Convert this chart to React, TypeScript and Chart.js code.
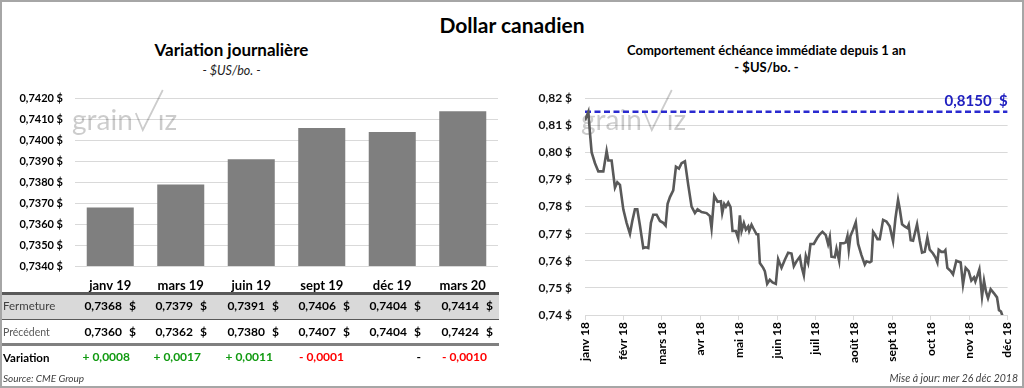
import React, { useEffect, useRef } from "react";
import { Chart, registerables } from "chart.js";

Chart.register(...registerables);

const FONT = "Lato, 'Open Sans', 'Noto Sans', sans-serif";
Chart.defaults.font.family = FONT;

// ---- Left panel data (daily variation by contract) ----
const contracts = ["janv 19", "mars 19", "juin 19", "sept 19", "déc 19", "mars 20"];
const closing = [0.7368, 0.7379, 0.7391, 0.7406, 0.7404, 0.7414];
const previous = [0.736, 0.7362, 0.738, 0.7407, 0.7404, 0.7424];
const leftMin = 0.734;
const leftMax = 0.742;
const leftStep = 0.001;

// ---- Right panel data (nearby contract, last year) ----
const monthLabels = ["janv 18", "févr 18", "mars 18", "avr 18", "mai 18", "juin 18", "juil 18", "août 18", "sept 18", "oct 18", "nov 18", "déc 18"];
// position in months since janv 18
const monthPos = [
  0.0, 0.087, 0.13, 0.173, 0.26, 0.347, 0.477, 0.563, 0.607, 0.693, 0.78, 0.841, 0.91, 0.997,
  1.083, 1.17, 1.231, 1.3, 1.361, 1.43, 1.517, 1.586, 1.647, 1.716, 1.777, 1.864, 1.951,
  2.037, 2.098, 2.15, 2.211, 2.297, 2.367, 2.445, 2.514, 2.601, 2.687, 2.774, 2.861, 2.93,
  3.034, 3.164, 3.251, 3.294, 3.364, 3.45, 3.537, 3.572, 3.624, 3.667, 3.728, 3.788, 3.84, 3.927, 3.988,
  4.031, 4.075, 4.135, 4.187, 4.248, 4.274, 4.335, 4.378, 4.465, 4.508, 4.551, 4.638, 4.681, 4.742, 4.811, 4.882, 4.967,
  5.028, 5.115, 5.202, 5.288, 5.375, 5.436, 5.505, 5.592, 5.635, 5.696, 5.748, 5.808, 5.869, 5.956,
  6.043, 6.112, 6.181, 6.268, 6.328, 6.372, 6.415, 6.502, 6.545, 6.615, 6.649, 6.736, 6.788, 6.832, 6.866, 6.91, 6.979,
  7.048, 7.109, 7.196, 7.282, 7.326, 7.412, 7.456, 7.499, 7.542, 7.612, 7.672, 7.759, 7.846, 7.932,
  8.019, 8.08, 8.149, 8.192, 8.253, 8.322, 8.392, 8.426, 8.478, 8.539, 8.643, 8.713, 8.773, 8.843, 8.912, 8.973,
  9.059, 9.12, 9.172, 9.207, 9.276, 9.345, 9.38, 9.432, 9.519, 9.579, 9.666, 9.779, 9.839, 9.909, 9.987,
  10.056, 10.126, 10.161, 10.213, 10.265, 10.334, 10.386, 10.438, 10.49, 10.559, 10.646, 10.724, 10.776, 10.828, 10.863,
];
const rate = [
  0.8118, 0.815, 0.807, 0.8, 0.796, 0.793, 0.793, 0.8005, 0.797, 0.797, 0.787, 0.789, 0.788, 0.779,
  0.774, 0.77, 0.7747, 0.779, 0.779, 0.773, 0.7647, 0.765, 0.7647, 0.774, 0.777, 0.777, 0.7747,
  0.774, 0.773, 0.781, 0.7835, 0.786, 0.7947, 0.794, 0.796, 0.7967, 0.788, 0.78, 0.7776, 0.779,
  0.778, 0.7776, 0.7765, 0.772, 0.784, 0.7818, 0.782, 0.7776, 0.781, 0.78, 0.7815, 0.7798, 0.771, 0.771, 0.7684,
  0.7768, 0.771, 0.7739, 0.7715, 0.7727, 0.771, 0.7733, 0.7721, 0.7698, 0.7698, 0.7592, 0.7574, 0.7562, 0.7515, 0.753, 0.752, 0.7515,
  0.7606, 0.7574, 0.7604, 0.763, 0.7627, 0.758, 0.7598, 0.7615, 0.758, 0.7547, 0.7618, 0.7592, 0.7662, 0.7662,
  0.7684, 0.7698, 0.7707, 0.7695, 0.7662, 0.7688, 0.7615, 0.7613, 0.7645, 0.76, 0.7665, 0.7665, 0.7668, 0.7692, 0.7641, 0.7692, 0.7715,
  0.7742, 0.7662, 0.7621, 0.7586, 0.7598, 0.7594, 0.7598, 0.7707, 0.7698, 0.768, 0.768, 0.7751, 0.7745, 0.7727,
  0.7672, 0.7756, 0.7825, 0.7792, 0.7735, 0.7727, 0.7721, 0.7733, 0.7676, 0.7674, 0.7735, 0.7674, 0.763, 0.7633, 0.7686, 0.7641,
  0.7627, 0.7613, 0.7594, 0.7641, 0.7633, 0.7633, 0.7639, 0.7574, 0.7562, 0.755, 0.76, 0.7594, 0.7512, 0.7574, 0.7562,
  0.7527, 0.7539, 0.7524, 0.7545, 0.7568, 0.7468, 0.7527, 0.7486, 0.7462, 0.7495, 0.748, 0.7465, 0.7418, 0.7413, 0.7398,
];
const refLevel = 0.815;
const rightMin = 0.74;
const rightMax = 0.82;
const rightStep = 0.01;

const fr = (v: number, d: number) => v.toFixed(d).replace(".", ",");

// table column right edges ($ sign) – layout
const colRight = [136, 207, 279, 350, 421, 493];

function makeWatermark(x0: number, base: number) {
  return {
    id: "wm",
    beforeDatasetsDraw(chart: any) {
      const ctx = chart.ctx as CanvasRenderingContext2D;
      ctx.save();
      const c = "rgba(0,0,0,0.2)";
      ctx.fillStyle = c;
      ctx.strokeStyle = c;
      ctx.font = `400 28px ${FONT}`;
      ctx.textBaseline = "alphabetic";
      ctx.textAlign = "left";
      ctx.fillText("grain", x0, base);
      const w = ctx.measureText("grain").width;
      const x1 = x0 + w + 3;
      ctx.lineWidth = 1.8;
      ctx.beginPath();
      ctx.moveTo(x1, base - 17);
      ctx.lineTo(x1 + 7, base);
      ctx.lineTo(x1 + 27, base - 40);
      ctx.stroke();
      ctx.fillText("ız", x1 + 22, base);
      ctx.restore();
    },
  };
}

const refLabelPlugin = {
  id: "refLabel",
  afterDatasetsDraw(chart: any) {
    const ctx = chart.ctx as CanvasRenderingContext2D;
    const y = chart.scales.y.getPixelForValue(refLevel);
    ctx.save();
    ctx.font = `bold 15px ${FONT}`;
    ctx.fillStyle = "#2020c0";
    ctx.textAlign = "right";
    ctx.textBaseline = "alphabetic";
    ctx.fillText(fr(refLevel, 4) + "  $", chart.chartArea.right, y - 6);
    ctx.restore();
  },
};

type TxtProps = {
  x: number;
  base: number;
  size: number;
  align?: "left" | "center" | "right";
  weight?: number;
  italic?: boolean;
  color?: string;
  children: React.ReactNode;
};

function Txt({ x, base, size, align = "left", weight = 400, italic = false, color = "#000", children }: TxtProps) {
  const top = base - 0.987 * size;
  const style: React.CSSProperties = {
    position: "absolute",
    top,
    fontFamily: FONT,
    fontSize: size,
    fontWeight: weight,
    fontStyle: italic ? "italic" : "normal",
    color,
    lineHeight: 1.2,
    whiteSpace: "nowrap",
  };
  if (align === "left") {
    style.left = x;
  } else if (align === "center") {
    style.left = x - 300;
    style.width = 600;
    style.textAlign = "center";
  } else {
    style.left = x - 600;
    style.width = 600;
    style.textAlign = "right";
  }
  return <div style={style}>{children}</div>;
}

export default function App() {
  const leftRef = useRef<HTMLCanvasElement>(null);
  const rightRef = useRef<HTMLCanvasElement>(null);

  useEffect(() => {
    const tickFont = { family: FONT, weight: "bold" as const };
    const left = new Chart(leftRef.current!, {
      type: "bar",
      data: {
        labels: contracts,
        datasets: [
          {
            data: closing,
            backgroundColor: "#7f7f7f",
            barPercentage: 0.667,
            categoryPercentage: 1,
          },
        ],
      },
      options: {
        animation: false,
        responsive: false,
        maintainAspectRatio: false,
        layout: { padding: { top: 8, right: 7, bottom: 0, left: 0 } },
        plugins: { legend: { display: false }, tooltip: { enabled: false } },
        scales: {
          x: {
            grid: { display: false, drawTicks: false },
            border: { display: false },
            ticks: { font: { ...tickFont, size: 13 }, color: "#000", padding: 12 },
            afterFit: (s: any) => {
              s.height = 34;
            },
          },
          y: {
            min: leftMin,
            max: leftMax,
            ticks: {
              stepSize: leftStep,
              font: { ...tickFont, size: 11 },
              color: "#000",
              padding: 12,
              callback: (v: any) => fr(Number(v), 4) + " $",
            },
            grid: { color: "#d9d9d9", drawTicks: false },
            border: { display: false },
            afterFit: (s: any) => {
              s.width = 75;
            },
          },
        },
      },
      plugins: [makeWatermark(72, 50)],
    });

    const right = new Chart(rightRef.current!, {
      type: "line",
      data: {
        datasets: [
          {
            data: monthPos.map((x, i) => ({ x, y: rate[i] })),
            borderColor: "#595959",
            borderWidth: 2.6,
            pointRadius: 0,
            tension: 0,
          },
          {
            data: [
              { x: 0, y: refLevel },
              { x: 11, y: refLevel },
            ],
            borderColor: "#2a2ad0",
            borderWidth: 2.5,
            borderDash: [6, 3.5],
            pointRadius: 0,
          },
        ],
      },
      options: {
        animation: false,
        responsive: false,
        maintainAspectRatio: false,
        layout: { padding: { top: 8.5, right: 15, bottom: 0, left: 0 } },
        plugins: { legend: { display: false }, tooltip: { enabled: false } },
        scales: {
          x: {
            type: "linear",
            min: 0,
            max: 11,
            ticks: {
              stepSize: 1,
              autoSkip: false,
              maxRotation: 90,
              minRotation: 90,
              font: { ...tickFont, size: 12 },
              color: "#000",
              padding: 2,
              callback: (v: any) => monthLabels[Math.round(Number(v))] ?? "",
            },
            grid: { drawOnChartArea: false, drawTicks: true, tickLength: 5, color: "#d9d9d9" },
            border: { display: true, color: "#d9d9d9" },
            afterFit: (s: any) => {
              s.height = 55;
            },
          },
          y: {
            min: rightMin,
            max: rightMax,
            ticks: {
              stepSize: rightStep,
              font: { ...tickFont, size: 12 },
              color: "#111",
              padding: 13,
              callback: (v: any) => fr(Number(v), 2) + " $",
            },
            grid: { color: "#d9d9d9", drawTicks: false },
            border: { display: false },
            afterFit: (s: any) => {
              s.width = 80;
            },
          },
        },
      },
      plugins: [makeWatermark(76, 52), refLabelPlugin],
    });

    return () => {
      left.destroy();
      right.destroy();
    };
  }, []);

  const rows = [
    { y: 310.7, values: closing },
    { y: 336.7, values: previous },
  ];

  return (
    <div
      style={{
        position: "fixed",
        left: 0,
        top: 0,
        width: 1024,
        height: 388,
        background: "#fff",
        overflow: "hidden",
        fontFamily: FONT,
      }}
    >
      <Txt x={512} base={33} size={21} weight={700} align="center">
        Dollar canadien
      </Txt>
      <Txt x={231.5} base={56.7} size={17} weight={700} align="center">
        Variation journalière
      </Txt>
      <Txt x={231.5} base={75} size={12.5} italic align="center" color="#222">
        - $US/bo. -
      </Txt>
      <Txt x={766.5} base={56} size={13} weight={700} align="center">
        Comportement échéance immédiate depuis 1 an
      </Txt>
      <Txt x={766.5} base={72.7} size={13} weight={700} align="center">
        - $US/bo. -
      </Txt>

      {/* table background and rules */}
      <div style={{ position: "absolute", left: 0, top: 295, width: 499, height: 24, background: "#d9d9d9" }} />
      <div style={{ position: "absolute", left: 0, top: 292, width: 499, height: 3, background: "#595959" }} />
      <div style={{ position: "absolute", left: 0, top: 319, width: 499, height: 1, background: "#595959" }} />
      <div style={{ position: "absolute", left: 0, top: 343, width: 499, height: 3, background: "#808080" }} />

      <canvas
        ref={leftRef}
        width={505}
        height={220}
        style={{ position: "absolute", left: 0, top: 80, width: 505, height: 220 }}
      />
      <canvas
        ref={rightRef}
        width={519}
        height={292}
        style={{ position: "absolute", left: 505, top: 78, width: 519, height: 292 }}
      />

      <Txt x={3} base={310.7} size={11.5} color="#404040">
        Fermeture
      </Txt>
      <Txt x={3} base={336.5} size={10.5} color="#595959">
        Précédent
      </Txt>
      <Txt x={3} base={362} size={11.5} weight={700}>
        Variation
      </Txt>

      {rows.map((r, ri) =>
        r.values.map((v, i) => (
          <React.Fragment key={`${ri}-${i}`}>
            <Txt x={colRight[i] - 14} base={r.y} size={12} weight={700} align="right">
              {fr(v, 4)}
            </Txt>
            <Txt x={colRight[i]} base={r.y} size={12} weight={700} align="right">
              $
            </Txt>
          </React.Fragment>
        ))
      )}

      {closing.map((c, i) => {
        const d = Math.round((c - previous[i]) * 10000);
        if (d === 0) {
          return (
            <Txt key={`v${i}`} x={colRight[i]} base={362} size={12} weight={700} align="right">
              -
            </Txt>
          );
        }
        const txt = (d > 0 ? "+ " : "- ") + fr(Math.abs(d) / 10000, 4);
        return (
          <Txt
            key={`v${i}`}
            x={colRight[i] - 6}
            base={362}
            size={12}
            weight={700}
            align="right"
            color={d > 0 ? "#119a11" : "#ff0000"}
          >
            {txt}
          </Txt>
        );
      })}

      <Txt x={3} base={382} size={10} italic color="#404040">
        Source: CME Group
      </Txt>
      <Txt x={1018} base={382.5} size={10.5} italic color="#404040" align="right">
        Mise à jour: mer 26 déc 2018
      </Txt>

      <div
        style={{
          position: "absolute",
          left: 0,
          top: 0,
          width: 1024,
          height: 388,
          boxSizing: "border-box",
          border: "2px solid #a6a6a6",
          pointerEvents: "none",
        }}
      />
    </div>
  );
}
